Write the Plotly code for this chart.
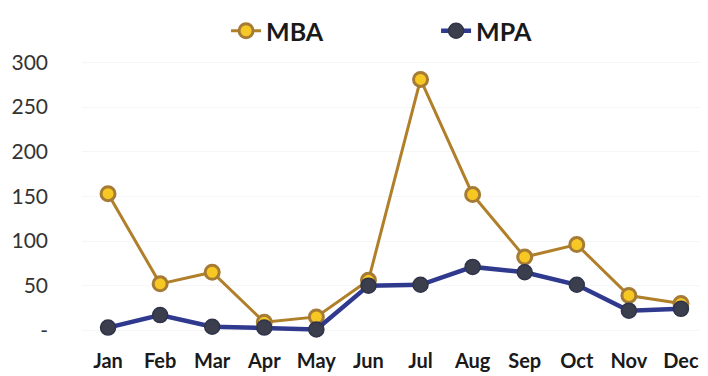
import plotly.graph_objects as go

months = ["Jan", "Feb", "Mar", "Apr", "May", "Jun", "Jul", "Aug", "Sep", "Oct", "Nov", "Dec"]
mba = [153, 52, 65, 9, 15, 56, 281, 152, 82, 96, 39, 30]
mpa = [3, 17, 4, 3, 1, 50, 51, 71, 65, 51, 22, 24]
y_ticks = [0, 50, 100, 150, 200, 250, 300]
y_tick_text = ["-", "50", "100", "150", "200", "250", "300"]

fig = go.Figure()
fig.add_trace(go.Scatter(
    x=months, y=mba, name="MBA", mode="lines+markers",
    line=dict(color="#B07F2A", width=3),
    marker=dict(size=14, color="#F7C824", line=dict(color="#A57B35", width=3)),
))
fig.add_trace(go.Scatter(
    x=months, y=mpa, name="MPA", mode="lines+markers",
    line=dict(color="#2F3A8F", width=4.5),
    marker=dict(size=15, color="#3B3E4C", line=dict(color="#30344A", width=1.5)),
))

fig.update_layout(
    width=708, height=376,
    margin=dict(l=74, r=9, t=50, b=43, autoexpand=False),
    paper_bgcolor="white", plot_bgcolor="white",
    font=dict(family="Lato, Carlito, Liberation Sans, sans-serif", color="#333333"),
    showlegend=True,
    legend=dict(
        orientation="h", x=0.308, xanchor="left", xref="container",
        y=1.0, yanchor="top", yref="container",
        font=dict(size=25, color="#1a1a1a", family="Lato, sans-serif", weight="bold"),
        entrywidth=165, bgcolor="rgba(0,0,0,0)",
    ),
    xaxis=dict(
        showgrid=False, zeroline=False, showline=False,
        tickfont=dict(size=20, color="#1a1a1a", weight="bold"),
        ticks="", range=[-0.5, 11.5], ticklabelstandoff=6,
    ),
    yaxis=dict(
        range=[-12, 305], tickvals=y_ticks, ticktext=y_tick_text,
        showgrid=True, gridcolor="#f6f6f6", zeroline=False, showline=False,
        tickfont=dict(size=21, color="#333333"), ticks="",
        ticklabelstandoff=33,
    ),
)

fig.write_html("out.html")
